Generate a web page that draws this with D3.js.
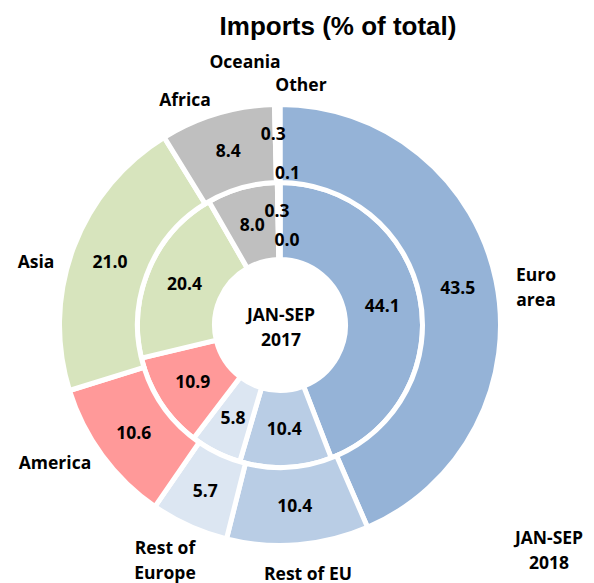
<!DOCTYPE html>
<html lang="en">
<head>
<meta charset="UTF-8">
<title>Imports (% of total)</title>
<script src="https://cdn.jsdelivr.net/npm/d3@7"></script>
<style>
    body { margin: 0; background: #fff; }
    .lbl { font-family: "Open Sans", sans-serif; font-weight: bold; font-size: 17.5px; fill: #000; }
    .title { font-family: "Liberation Sans", Arial, sans-serif; font-weight: bold; font-size: 26px; }
</style>
</head>
<body>
<div id="chart"></div>
<script>
    const categories = ["Euro area", "Rest of EU", "Rest of Europe", "America", "Asia", "Africa", "Oceania", "Other"]
    const values2018 = [43.5, 10.4, 5.7, 10.6, 21.0, 8.4, 0.3, 0.1]
    const values2017 = [44.1, 10.4, 5.8, 10.9, 20.4, 8.0, 0.3, 0.0]
    const colors = ["#95b3d7", "#b9cde5", "#dce6f2", "#ff9999", "#d7e4bd", "#bfbfbf", "#bfbfbf", "#bfbfbf"]

    const width = 594, height = 583
    const cx = 280, cy = 325

    const svg = d3.select("#chart").append("svg")
        .attr("width", width).attr("height", height)

    svg.append("text").attr("class", "title")
        .attr("x", 338).attr("y", 35).attr("text-anchor", "middle")
        .text("Imports (% of total)")

    const g = svg.append("g").attr("transform", `translate(${cx},${cy})`)

    const pie = d3.pie().sort(null).value(d => d)

    // rings: inner = 2017, outer = 2018
    const rings = [
        {values: values2017, r0: 65.5, r1: 142.5, nudge: {6: [-2, -10], 7: [7, 19]}},
        {values: values2018, r0: 142.5, r1: 220.5, nudge: {6: [-4, -10], 7: [8, 29]}}
    ]

    rings.forEach(ring => {
        const arc = d3.arc().innerRadius(ring.r0).outerRadius(ring.r1)
        const arcs = pie(ring.values)

        g.append("g").selectAll("path")
            .data(arcs)
            .enter()
            .append("path")
            .attr("d", arc)
            .attr("fill", (d, i) => colors[i])
            .attr("stroke", "#fff")
            .attr("stroke-width", 5)

        g.append("g").selectAll("text")
            .data(arcs)
            .enter()
            .append("text")
            .attr("class", "lbl")
            .attr("text-anchor", "middle")
            .attr("dy", "0.35em")
            .attr("transform", (d, i) => {
                const c = arc.centroid(d)
                const n = ring.nudge[i] || [0, 0]
                return `translate(${c[0] + n[0]},${c[1] + n[1]})`
            })
            .text(d => d.data.toFixed(1))
    })

    // category labels placed around the chart
    const labelPos = [[536, 275], [308, 574], [165, 548], [55, 463], [36, 262], [185, 100], [245, 62], [301, 85]]
    const labelLines = categories.map(c => {
        if (c === "Euro area") return ["Euro", "area"]
        if (c === "Rest of Europe") return ["Rest of", "Europe"]
        return [c]
    })

    const cat = svg.append("g").selectAll("text")
        .data(categories)
        .enter()
        .append("text")
        .attr("class", "lbl")
        .attr("text-anchor", "middle")
        .attr("x", (d, i) => labelPos[i][0])
        .attr("y", (d, i) => labelPos[i][1])

    cat.selectAll("tspan")
        .data((d, i) => labelLines[i].map(t => ({t, x: labelPos[i][0]})))
        .enter()
        .append("tspan")
        .attr("x", d => d.x)
        .attr("dy", (d, j) => j === 0 ? "0.35em" : 25)
        .text(d => d.t)

    // period labels
    const periods = [{lines: ["JAN-SEP", "2017"], x: 281, y: 315}, {lines: ["JAN-SEP", "2018"], x: 549, y: 538}]
    periods.forEach(p => {
        const t = svg.append("text").attr("class", "lbl").attr("text-anchor", "middle")
            .attr("x", p.x).attr("y", p.y)
        p.lines.forEach((l, j) => {
            t.append("tspan").attr("x", p.x).attr("dy", j === 0 ? "0.35em" : 25).text(l)
        })
    })
</script>
</body>
</html>
